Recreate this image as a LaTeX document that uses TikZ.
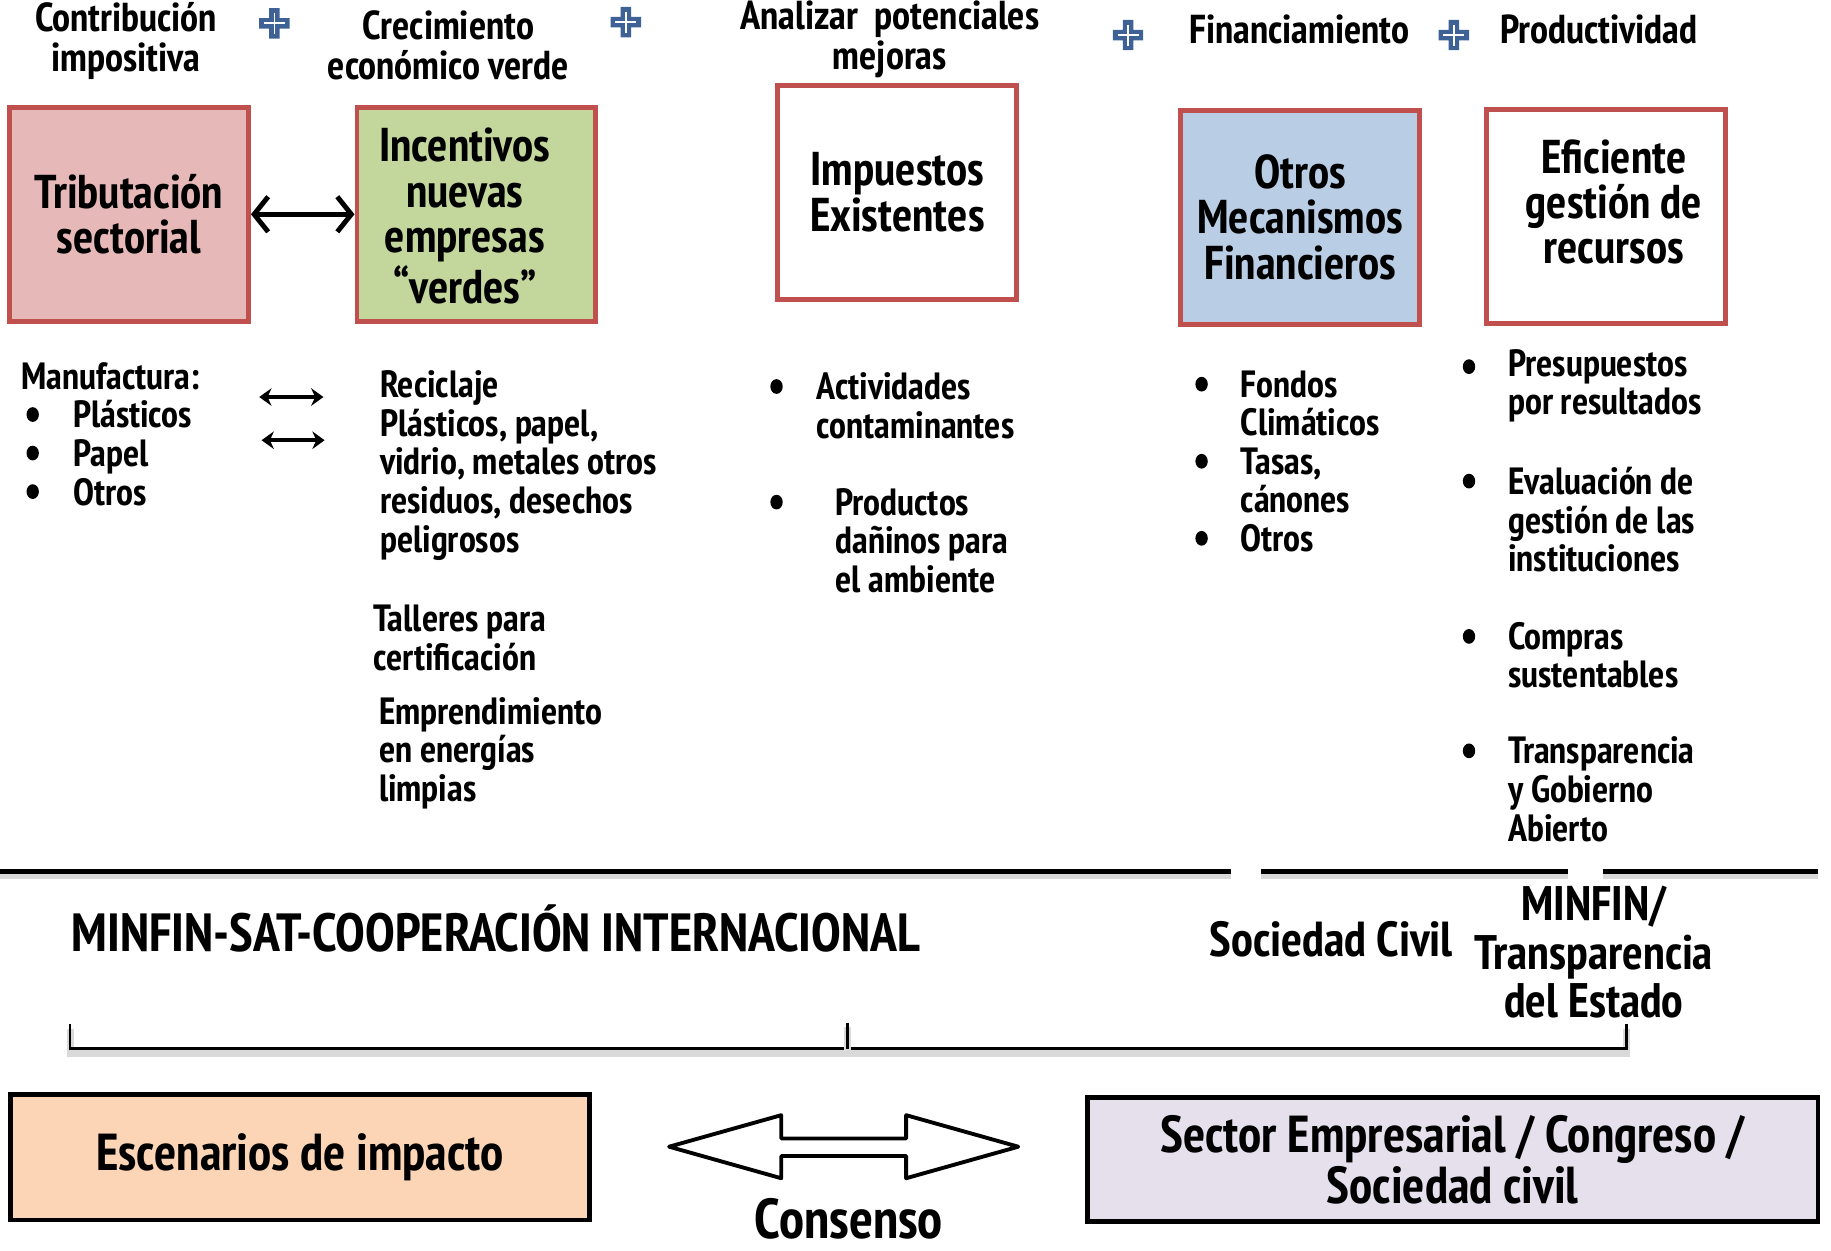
\documentclass[tikz,border=0pt]{standalone}
\usepackage{fontspec}
\IfFontExistsTF{PT Sans Narrow}{\setmainfont{PT Sans Narrow}}{\setmainfont{Fira Sans}}
\usetikzlibrary{arrows.meta}
\usetikzlibrary{positioning}
\definecolor{borde rojo}{RGB}{192,80,77}
\definecolor{fondo rosa}{RGB}{230,185,184}
\definecolor{fondo verde}{RGB}{195,214,155}
\definecolor{fondo azul}{RGB}{185,205,229}
\definecolor{fondo durazno}{RGB}{251,213,181}
\definecolor{fondo lila}{RGB}{229,224,236}
\definecolor{cruz azul}{RGB}{62,98,150}
\newcommand{\letra}[2]{\fontsize{#1}{#2}\selectfont\bfseries}

\begin{document}
\begin{tikzpicture}[x=0.1168mm, y=-0.1168mm,
					caja/.style={draw=borde rojo, line width=1.4pt, minimum width=23.9mm, minimum height=21.4mm, align=center, font=\letra{13.5}{12.9}},
					texto caja/.style={align=center, font=\letra{13.5}{12.9}},
					caja baja/.style={draw, line width=1.3pt, minimum height=12.6mm, align=center, font=\letra{14.8}{14.5}},
					titulo/.style={align=center, font=\letra{11.5}{11.4}},
					lista/.style={anchor=west, align=left, inner sep=0pt, font=\letra{10.8}{11}},
					sombra/.style={preaction={draw=black!15, line width=2pt, transform canvas={yshift=-1.3pt}}},
					raya/.style={line width=1.4pt, sombra},
					corchete/.style={line width=0.8pt, sombra},
					doble/.style={line width=1.4pt, {Straight Barb[length=4pt,width=10pt]}-{Straight Barb[length=4pt,width=10pt]}},
					chica/.style={line width=1pt, {Stealth[length=3.5pt,width=5pt]}-{Stealth[length=3.5pt,width=5pt]}},
					vineta/.pic={\fill (0,0) ellipse (5.3 and 6.3);},
					mas/.pic={
						\fill[cruz azul] (-13,-4.5) -- (-4.5,-4.5) -- (-4.5,-13) -- (4.5,-13) -- (4.5,-4.5) -- (13,-4.5)
							-- (13,4.5) -- (4.5,4.5) -- (4.5,13) -- (-4.5,13) -- (-4.5,4.5) -- (-13,4.5) -- cycle;
						\draw[white, line width=0.5pt] (-9,0) -- (9,0) (0,-9) -- (0,9);
					},
				]
					\useasboundingbox (0,0) rectangle (1568,1071);
					
					% titulos de arriba
					\node[titulo] (contribucion) at (108,35) {Contribución\\impositiva};
					\node[titulo] (crecimiento) at (384,38.5) {Crecimiento\\económico verde};
					\node[titulo] (analizar) at (762,33.5) {Analizar\ \ potenciales\\mejoras};
					\node[titulo] (financiamiento) at (1113,25) {Financiamiento};
					\node[titulo] (productividad) at (1369,25) {Productividad};
					\pic at (235,20) {mas};
					\pic at (536,19) {mas};
					\pic at (966,30) {mas};
					\pic at (1245,30) {mas};
					
					% cajas
					\node[caja, fill=fondo rosa] (tributacion) at (110.5,183.5) {Tributación\\sectorial};
					\node[caja, fill=fondo verde] (incentivos) at (408,183.5) {};
					\node[texto caja] (incentivos texto) at (398,185) {Incentivos\\nuevas\\empresas\\“verdes”};
					\node[caja] (impuestos) at (768.5,164.5) {Impuestos\\Existentes};
					\node[caja, fill=fondo azul] (otros) at (1113.5,186) {Otros\\Mecanismos\\Financieros};
					\node[caja] (eficiente) at (1375.5,185.5) {};
					\node[texto caja] (eficiente texto) at (1382,173) {Eficiente\\gestión de\\recursos};
					\draw[doble] (tributacion) -- (incentivos);
					
					% listas
					\node[lista] (manufactura) at (18,322) {Manufactura:};
					\node[lista] (materiales) at (62,388) {Plásticos\\Papel\\Otros};
					\node[lista] (reciclaje) at (325,398.5) {Reciclaje\\Plásticos, papel,\\vidrio, metales otros\\residuos, desechos\\peligrosos};
					\node[lista] (talleres) at (319,546.5) {Talleres para\\certificación};
					\node[lista] (emprendimiento) at (324,645) {Emprendimiento\\en energías\\limpias};
					\node[lista] (actividades) at (699,347.5) {Actividades\\contaminantes};
					\node[lista] (productos) at (715,463) {Productos\\dañinos para\\el ambiente};
					\node[lista] (fondos) at (1062,345.5) {Fondos\\Climáticos};
					\node[lista] (tasas) at (1062,411.5) {Tasas,\\cánones};
					\node[lista] (otros fin) at (1062,461) {Otros};
					\node[lista] (presupuestos) at (1291,330.5) {Presupuestos\\por resultados};
					\node[lista] (evaluacion) at (1291,445) {Evaluación de\\gestión de las\\instituciones};
					\node[lista] (compras) at (1291,561) {Compras\\sustentables};
					\node[lista] (transparencia) at (1291,676) {Transparencia\\y Gobierno\\Abierto};
					\foreach \x/\y in {28/355, 28/388, 28/421, 665/331, 665/430, 1029/329, 1029/395, 1029/461,
						1258/314, 1258/412, 1258/545, 1258/643}
						\pic at (\x,\y) {vineta};
					
					\coordinate (plastico izq) at (222,340);
					\coordinate (plastico der) at (277,340);
					\coordinate (papel izq) at (224,377);
					\coordinate (papel der) at (278,377);
					\draw[chica] (plastico izq) -- (plastico der);
					\draw[chica] (papel izq) -- (papel der);
					
					% responsables
					\draw[raya] (0,746) -- (1054,746);
					\draw[raya] (1080,746) -- (1343,746);
					\draw[raya] (1373,746) -- (1557,746);
					\node[anchor=west, inner sep=0pt, font=\letra{15.3}{15}] (minfin sat) at (61,795) {MINFIN-SAT-COOPERACIÓN INTERNACIONAL};
					\node[font=\letra{14}{14}] (sociedad) at (1140,804) {Sociedad Civil};
					\node[align=center, font=\letra{13.8}{13.8}] (minfin estado) at (1365,815.5) {MINFIN/\\Transparencia\\del Estado};
					\draw[corchete] (60,877) -- (60,898) -- (1393,898) -- (1393,877);
					\draw[corchete] (726,876) -- (726,898);
					
					% consenso
					\node[caja baja, fill=fondo durazno, minimum width=57.9mm] (escenarios) at (257,991) {Escenarios de impacto};
					\node[caja baja, fill=fondo lila, minimum width=73.1mm, minimum height=12.4mm] (sector) at (1244,993) {Sector Empresarial / Congreso /\\Sociedad civil};
					\draw[line width=1.1pt, line join=round, fill=white] (573,982) -- (669,955) -- (669,975) -- (776,975) -- (776,955)
						-- (872,982) -- (776,1009) -- (776,990) -- (669,990) -- (669,1009) -- cycle;
					\node[inner sep=0pt, font=\letra{16}{16}] (consenso) at (727,1044) {Consenso};
				\end{tikzpicture}
\end{document}
